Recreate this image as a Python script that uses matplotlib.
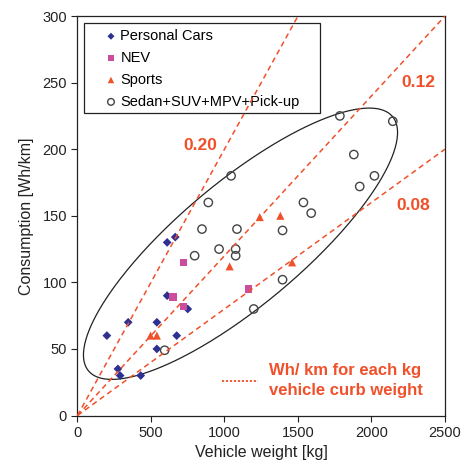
import numpy as np
import matplotlib
matplotlib.use("Agg")
import matplotlib.pyplot as plt
from matplotlib.patches import Rectangle

plt.rcParams['font.family'] = ['Liberation Sans', 'DejaVu Sans']

# Data
cars_w = [200, 275, 290, 430, 345, 540, 540, 675, 610, 665, 610, 750]
cars_c = [60, 35, 30, 30, 70, 70, 50, 60, 130, 134, 90, 80]
nev_w = [650, 720, 720, 1165]
nev_c = [89, 115, 82, 95]
sport_w = [497, 540, 1035, 1240, 1380, 1460]
sport_c = [60, 60, 112, 149, 150, 115]
sedan_w = [593, 797, 847, 890, 963, 1045, 1076, 1076, 1085, 1199, 1395, 1395,
           1537, 1590, 1785, 1880, 1920, 2020, 2145]
sedan_c = [49, 120, 140, 160, 125, 180, 125, 120, 140, 80, 139, 102,
           160, 152, 225, 196, 172, 180, 221]
slopes = [0.20, 0.12, 0.08]
slope_labels = ['0.20', '0.12', '0.08']
slope_label_pos = [(833, 203), (2316, 250), (2284, 158)]

# ellipse parameters (data units)
ell_center = (1109, 129)
ell_u = (1034, 95.5)
ell_v = (269, -35.5)

orange = '#F0502A'
navy = '#2E3192'
pink = '#CC4C9E'

fig = plt.figure(figsize=(4.64, 4.72), dpi=100)
ax = fig.add_axes([0.167, 0.1197, 0.792, 0.8463])

xmax, ymax = 2500, 300
for s in slopes:
    xe = min(xmax, ymax / s)
    ax.plot([0, xe], [0, s * xe], ls=(0, (3.5, 2.5)), color=orange, lw=1.1, zorder=6)

t = np.linspace(0, 2 * np.pi, 400)
ex = ell_center[0] + np.cos(t) * ell_u[0] + np.sin(t) * ell_v[0]
ey = ell_center[1] + np.cos(t) * ell_u[1] + np.sin(t) * ell_v[1]
ax.plot(ex, ey, color='#222222', lw=0.9, zorder=2)

ax.scatter(cars_w, cars_c, marker='D', s=20, color=navy, edgecolors='none', zorder=3, label='Personal Cars')
ax.scatter(nev_w, nev_c, marker='s', s=26, color=pink, edgecolors='none', zorder=3, label='NEV')
ax.scatter(sport_w, sport_c, marker='^', s=34, color=orange, edgecolors='none', zorder=3, label='Sports')
ax.scatter(sedan_w, sedan_c, marker='o', s=36, facecolors='none', edgecolors='#444444', linewidths=1.0, zorder=3,
           label='Sedan+SUV+MPV+Pick-up')

for lab, (x, y) in zip(slope_labels, slope_label_pos):
    ax.text(x, y, lab, color=orange, fontsize=12.5, fontweight='bold', ha='center', va='center')

ax.plot([980, 1230], [26, 26], ls=(0, (1.2, 1.0)), color=orange, lw=1.3)
ax.text(1306, 34, 'Wh/ km for each kg', color=orange, fontsize=12, fontweight='bold', ha='left', va='center')
ax.text(1306, 19, 'vehicle curb weight', color=orange, fontsize=12, fontweight='bold', ha='left', va='center')

ax.set_xlim(0, xmax)
ax.set_ylim(0, ymax)
ax.set_xticks([0, 500, 1000, 1500, 2000, 2500])
ax.set_yticks([0, 50, 100, 150, 200, 250, 300])
ax.tick_params(labelsize=10.5, direction='out', length=4, width=0.8, colors='#222222')
ax.set_xlabel('Vehicle weight [kg]', fontsize=11.5, color='#222222', labelpad=4)
ax.set_ylabel('Consumption [Wh/km]', fontsize=11.5, color='#222222', labelpad=6)
for sp in ax.spines.values():
    sp.set_linewidth(0.9)
    sp.set_color('#222222')

# legend frame (transparent, as in the reference)
ax.add_patch(Rectangle((0.0177, 0.757), 0.6422, 0.2255, transform=ax.transAxes, facecolor='none',
                       edgecolor='#222222', lw=0.9, zorder=4))
leg = ax.legend(loc='upper left', bbox_to_anchor=(0.0177, 0.982), fontsize=10.5, frameon=False,
                handletextpad=-0.8, borderpad=0.4, labelspacing=0.54, markerscale=0.8,
                handlelength=2.9, borderaxespad=0)
leg.set_zorder(5)

fig.savefig('out.png', dpi=100)
